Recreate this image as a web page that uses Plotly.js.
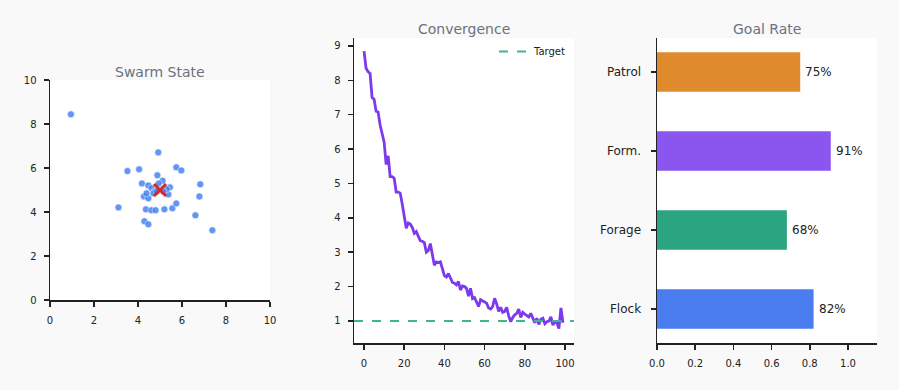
<!DOCTYPE html>
<html>
<head>
<meta charset="utf-8">
<script src="https://cdn.plot.ly/plotly-3.0.1.min.js"></script>
<style>
html,body{margin:0;padding:0;background:#f9f9f9;}
#chart{width:899px;height:390px;}
</style>
</head>
<body>
<div id="chart"></div>
<script>
// Swarm state
const agentX = [0.95,4.92,3.52,4.05,5.74,5.97,4.88,5.12,4.18,4.47,5.45,6.83,6.79,4.27,4.47,5.38,3.11,4.36,4.61,4.80,5.20,5.56,5.74,6.61,4.29,4.47,7.38,4.62,4.77,4.39,4.70,5.30,4.94,5.15,4.85];
const agentY = [8.44,6.71,5.86,5.94,6.03,5.89,5.67,5.42,5.30,5.21,5.12,5.26,4.71,4.71,4.62,4.80,4.21,4.12,4.08,4.08,4.12,4.17,4.39,3.85,3.58,3.44,3.17,5.08,4.95,4.85,4.85,5.03,5.30,4.93,4.93];
const goalX = [5];
const goalY = [5];

// Convergence
const steps = Array.from({length:100},(_,i)=>i);
const error = [8.85,8.35,8.25,8.2,7.5,7.45,7.1,7.08,6.7,6.45,
  6.2,5.55,5.8,5.2,5.2,5.15,4.75,4.75,4.72,4.4,
  4.05,3.7,3.85,3.82,3.72,3.55,3.6,3.45,3.33,3.32,
  3.28,3.0,3.05,3.25,2.95,2.62,2.72,2.7,2.72,2.5,
  2.32,2.28,2.38,2.25,2.12,2.1,2.05,2.15,1.9,2.02,
  2.0,1.95,1.72,1.95,1.65,1.68,1.55,1.42,1.62,1.58,
  1.55,1.52,1.38,1.35,1.42,1.66,1.5,1.28,1.4,1.25,
  1.28,1.4,1.15,0.98,1.1,1.18,1.22,1.35,1.1,1.25,
  1.2,1.15,1.12,1.22,1.1,0.95,1.08,0.9,1.05,1.08,
  0.92,0.98,1.0,1.12,0.88,0.98,0.95,0.78,1.38,0.95];
const targetLevel = 1;

// Goal rate
const tasks = ['Flock','Forage','Form.','Patrol'];
const rates = [0.82,0.68,0.91,0.75];
const rateLabels = ['82%','68%','91%','75%'];
const barColors = ['#4a7def','#2ba581','#8b56ef','#df8a2c'];

const W = 899, H = 390;
const fx = (a,b)=>[a/W, b/W];
const fy = (top,bottom)=>[(H-bottom)/H, (H-top)/H];

const axBase = {
  showline:true, linecolor:'#222', linewidth:1.5, mirror:false,
  ticks:'outside', ticklen:5, tickwidth:1.5, tickcolor:'#222',
  ticklabelstandoff:5,
  showgrid:false, zeroline:false,
  tickfont:{family:'DejaVu Sans', size:10, color:'#222'}
};

const traces = [
  {x:agentX, y:agentY, type:'scatter', mode:'markers', xaxis:'x', yaxis:'y', showlegend:false,
   marker:{size:7, color:'#3b7cf0', opacity:0.8, line:{color:'#ffffff', width:0.6}}},
  {x:goalX, y:goalY, type:'scatter', mode:'markers', xaxis:'x', yaxis:'y', showlegend:false,
   marker:{symbol:'x-thin', size:12, color:'#dc2626', line:{color:'#dc2626', width:3}}},
  {x:steps, y:error, type:'scatter', mode:'lines', xaxis:'x2', yaxis:'y2', showlegend:false,
   line:{color:'#7c3aed', width:2.8}},
  {x:[-5,104.5], y:[targetLevel,targetLevel], type:'scatter', mode:'lines', xaxis:'x2', yaxis:'y2',
   name:'Target', showlegend:true, line:{color:'#3fb68b', width:1.8, dash:'dash'}},
  {x:rates, y:tasks, type:'bar', orientation:'h', xaxis:'x3', yaxis:'y3', showlegend:false,
   width:0.5, marker:{color:barColors}}
];

const barAnn = rates.map((r,i)=>({
  x:r, y:tasks[i], xref:'x3', yref:'y3', text:rateLabels[i], showarrow:false,
  xanchor:'left', yanchor:'middle', xshift:3,
  font:{family:'DejaVu Sans', size:12, color:'#222'}
}));

const layout = {
  width:W, height:H,
  margin:{l:0,r:0,t:0,b:0},
  paper_bgcolor:'#f9f9f9', plot_bgcolor:'#ffffff',
  font:{family:'DejaVu Sans', color:'#222'},
  xaxis:Object.assign({}, axBase, {domain:fx(50,270), anchor:'y', range:[0,10], tickvals:[0,2,4,6,8,10]}),
  yaxis:Object.assign({}, axBase, {domain:fy(80,300), anchor:'x', range:[0,10], tickvals:[0,2,4,6,8,10]}),
  xaxis2:Object.assign({}, axBase, {domain:fx(354,574), anchor:'y2', range:[-5,104.5], tickvals:[0,20,40,60,80,100]}),
  yaxis2:Object.assign({}, axBase, {domain:fy(38,343), anchor:'x2', range:[0.36,9.23], tickvals:[1,2,3,4,5,6,7,8,9]}),
  xaxis3:Object.assign({}, axBase, {domain:fx(657,877), anchor:'y3', range:[0,1.152], tickvals:[0,0.2,0.4,0.6,0.8,1.0], tickformat:'.1f'}),
  yaxis3:Object.assign({}, axBase, {domain:fy(38,343), anchor:'x3', type:'category', categoryorder:'array', categoryarray:tasks,
    range:[-0.43,3.43], ticklabelstandoff:7, tickfont:{family:'DejaVu Sans', size:12, color:'#222'}}),
  legend:{x:494/W, y:1-37/H, xanchor:'left', yanchor:'top', bgcolor:'rgba(0,0,0,0)',
    font:{family:'DejaVu Sans', size:10, color:'#222'}, itemwidth:30},
  annotations:[
    {text:'Swarm State', x:160/W, y:1-72/H, xref:'paper', yref:'paper', showarrow:false,
     font:{family:'DejaVu Sans', size:14, color:'#6b7280'}, xanchor:'center', yanchor:'middle'},
    {text:'Convergence', x:464/W, y:1-29/H, xref:'paper', yref:'paper', showarrow:false,
     font:{family:'DejaVu Sans', size:14, color:'#6b7280'}, xanchor:'center', yanchor:'middle'},
    {text:'Goal Rate', x:767/W, y:1-29/H, xref:'paper', yref:'paper', showarrow:false,
     font:{family:'DejaVu Sans', size:14, color:'#6b7280'}, xanchor:'center', yanchor:'middle'}
  ].concat(barAnn)
};

Plotly.newPlot('chart', traces, layout, {displayModeBar:false, staticPlot:true});
</script>
</body>
</html>
